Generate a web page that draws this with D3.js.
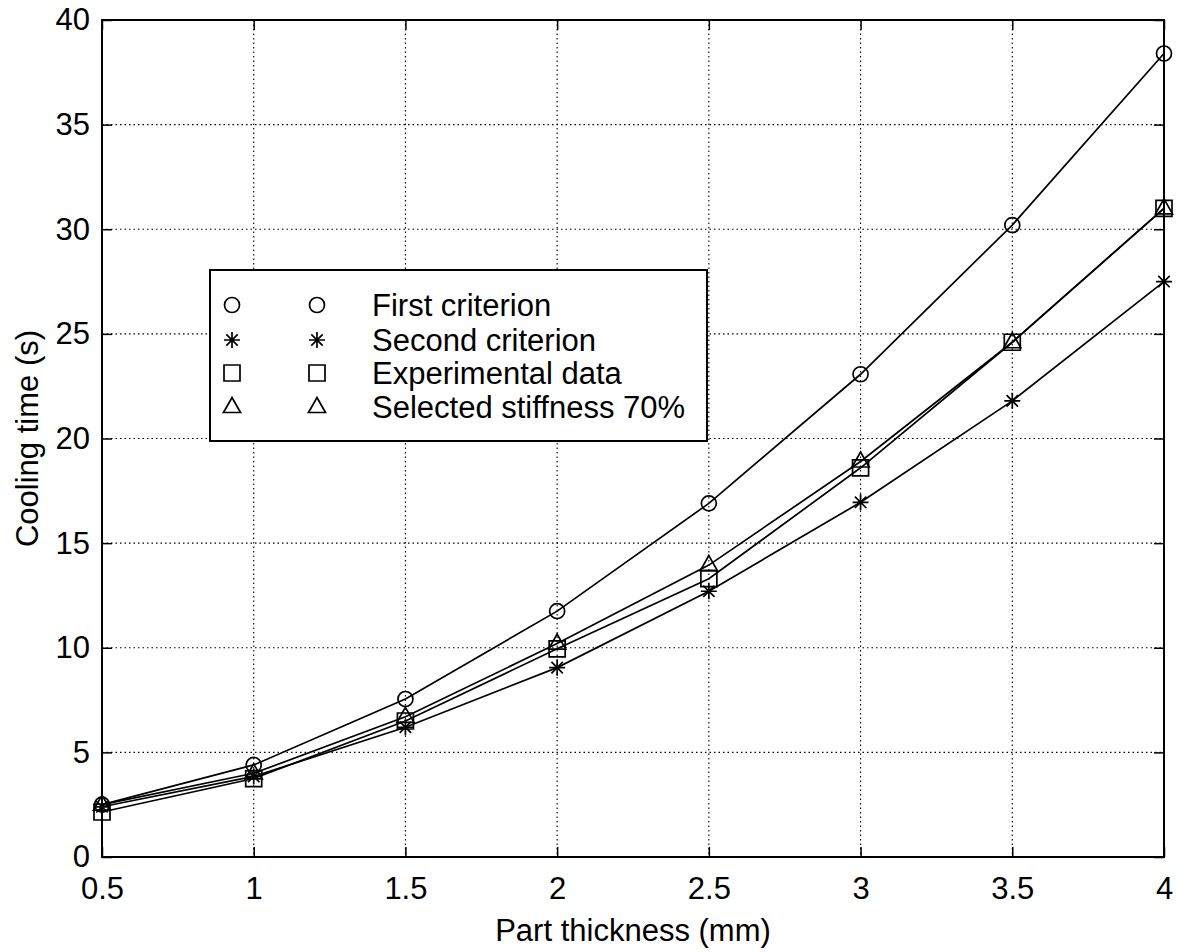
<!DOCTYPE html>
<html>
<head>
<meta charset="utf-8">
<script src="https://cdn.jsdelivr.net/npm/d3@7"></script>
<style>
  body { margin: 0; background: #fff; }
  svg text { font-family: "Liberation Sans", Arial, sans-serif; fill: #000; }
</style>
</head>
<body>
<div id="chart"></div>
<script>
// values
const thickness = [0.5, 1, 1.5, 2, 2.5, 3, 3.5, 4];
const firstCriterion = [2.5, 4.4, 7.55, 11.75, 16.9, 23.07, 30.2, 38.4];
const secondCriterion = [2.4, 3.85, 6.2, 9.05, 12.7, 16.95, 21.8, 27.5];
const experimental = [2.15, 3.75, 6.5, 9.95, 13.3, 18.6, 24.6, 31.0];
const selected70 = [2.5, 4.0, 6.7, 10.2, 13.95, 18.9, 24.6, 31.0];
const seriesNames = ['First criterion', 'Second criterion', 'Experimental data', 'Selected stiffness 70%'];
const xTicks = [0.5, 1, 1.5, 2, 2.5, 3, 3.5, 4];
const yTicks = [0, 5, 10, 15, 20, 25, 30, 35, 40];

const width = 1194;
const height = 952;
const plotLeft = 102, plotRight = 1164, plotTop = 20, plotBottom = 857;
const fontSize = 31;

const svg = d3.select('#chart')
    .append('svg')
    .attr('width', width)
    .attr('height', height);

const x = d3.scaleLinear().domain([0.5, 4]).range([plotLeft, plotRight]);
const y = d3.scaleLinear().domain([0, 40]).range([plotBottom, plotTop]);

// dotted grid
svg.append('g')
    .selectAll('line')
    .data(xTicks.slice(1, -1))
    .enter()
    .append('line')
    .attr('x1', d => x(d)).attr('x2', d => x(d))
    .attr('y1', plotTop).attr('y2', plotBottom)
    .attr('stroke', '#000').attr('stroke-width', 1.1)
    .attr('stroke-dasharray', '1.5,3');

svg.append('g')
    .selectAll('line')
    .data(yTicks.slice(1, -1))
    .enter()
    .append('line')
    .attr('y1', d => y(d)).attr('y2', d => y(d))
    .attr('x1', plotLeft).attr('x2', plotRight)
    .attr('stroke', '#000').attr('stroke-width', 1.1)
    .attr('stroke-dasharray', '1.5,3');

// axes, ticks pointing inward on all four sides
const tickLen = 10;
function noDomain(g) { g.select('.domain').remove(); g.selectAll('line').attr('stroke-width', 1.5); }

svg.append('g')
    .attr('transform', `translate(0,${plotBottom})`)
    .call(d3.axisBottom(x).tickValues(xTicks).tickSize(-tickLen).tickPadding(20).tickFormat(d3.format('')))
    .call(noDomain)
    .call(g => g.selectAll('text').attr('font-size', fontSize).attr('dy', '0.71em'));

svg.append('g')
    .attr('transform', `translate(0,${plotTop})`)
    .call(d3.axisTop(x).tickValues(xTicks).tickSize(-tickLen).tickFormat(''))
    .call(noDomain);

svg.append('g')
    .attr('transform', `translate(${plotLeft},0)`)
    .call(d3.axisLeft(y).tickValues(yTicks).tickSize(-tickLen).tickPadding(12))
    .call(noDomain)
    .call(g => g.selectAll('text').attr('font-size', fontSize));

svg.append('g')
    .attr('transform', `translate(${plotRight},0)`)
    .call(d3.axisRight(y).tickValues(yTicks).tickSize(-tickLen).tickFormat(''))
    .call(noDomain);

svg.append('rect')
    .attr('x', plotLeft).attr('y', plotTop)
    .attr('width', plotRight - plotLeft).attr('height', plotBottom - plotTop)
    .attr('fill', 'none').attr('stroke', '#000').attr('stroke-width', 2);

// axis titles
svg.append('text')
    .attr('x', (plotLeft + plotRight) / 2)
    .attr('y', 941)
    .attr('text-anchor', 'middle')
    .attr('font-size', fontSize)
    .text('Part thickness (mm)');

svg.append('text')
    .attr('transform', `translate(38,${(plotTop + plotBottom) / 2}) rotate(-90)`)
    .attr('text-anchor', 'middle')
    .attr('font-size', fontSize)
    .text('Cooling time (s)');

// marker shapes
function markerPath(kind) {
    if (kind === 'circle') return d3.symbol(d3.symbolCircle, Math.PI * 7.5 * 7.5)();
    if (kind === 'square') return 'M-8,-8H8V8H-8Z';
    if (kind === 'triangle') return 'M0,-9.5L8.5,5.5L-8.5,5.5Z';
    // star: plus + cross
    return 'M0,-8V8M-8,0H8M-5.7,-5.7L5.7,5.7M-5.7,5.7L5.7,-5.7';
}

const series = [
    { name: seriesNames[0], values: firstCriterion, marker: 'circle' },
    { name: seriesNames[1], values: secondCriterion, marker: 'star' },
    { name: seriesNames[2], values: experimental, marker: 'square' },
    { name: seriesNames[3], values: selected70, marker: 'triangle' }
];

const line = d3.line()
    .x(d => x(d[0]))
    .y(d => y(d[1]));

series.forEach(s => {
    const pts = thickness.map((t, i) => [t, s.values[i]]);
    svg.append('path')
        .datum(pts)
        .attr('d', line)
        .attr('fill', 'none')
        .attr('stroke', '#000')
        .attr('stroke-width', 1.7);

    svg.append('g')
        .selectAll('path')
        .data(pts)
        .enter()
        .append('path')
        .attr('transform', d => `translate(${x(d[0])},${y(d[1])})`)
        .attr('d', markerPath(s.marker))
        .attr('fill', 'none')
        .attr('stroke', '#000')
        .attr('stroke-width', 1.7);
});

// legend
const legend = svg.append('g');
legend.append('rect')
    .attr('x', 210).attr('y', 270)
    .attr('width', 497).attr('height', 171)
    .attr('fill', '#fff').attr('stroke', '#000').attr('stroke-width', 2);

const rowY = [305, 340, 373, 407];
series.forEach((s, i) => {
    [232, 317].forEach(mx => {
        legend.append('path')
            .attr('transform', `translate(${mx},${rowY[i]})`)
            .attr('d', markerPath(s.marker))
            .attr('fill', 'none')
            .attr('stroke', '#000')
            .attr('stroke-width', 1.7);
    });
    legend.append('text')
        .attr('x', 372)
        .attr('y', rowY[i])
        .attr('dy', '0.36em')
        .attr('font-size', fontSize)
        .text(s.name);
});
</script>
</body>
</html>
